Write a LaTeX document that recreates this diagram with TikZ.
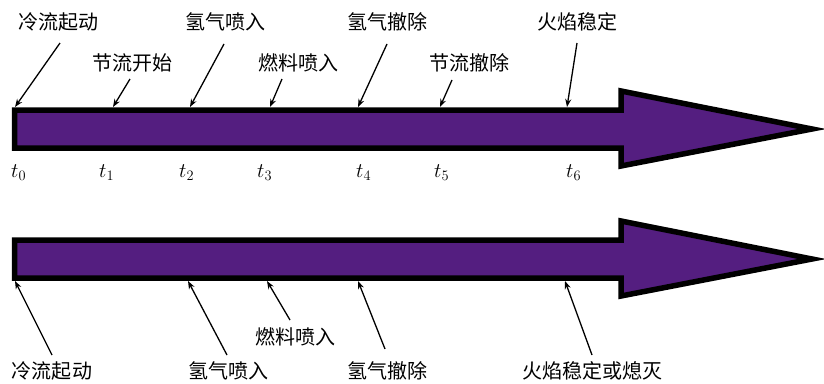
\documentclass[tikz,border=0pt]{standalone}
\usepackage{fontspec}
\newfontfamily\cjk{Noto Sans CJK SC}
\usetikzlibrary{arrows.meta}
\definecolor{arrowpurple}{RGB}{84,30,128}
\begin{document}
\begin{tikzpicture}[x=1pt,y=-1pt,
  bigarrow/.style={draw=black,line width=5.5pt,fill=arrowpurple,line join=miter},
  lbl/.style={font=\cjk\fontsize{20}{22}\selectfont,inner sep=0pt},
  tlbl/.style={font=\fontsize{20}{22}\selectfont,inner sep=0pt,anchor=west},
  ptr/.style={line width=1.3pt,-{Stealth[length=8pt,width=6pt]}}]
\useasboundingbox (0,0) rectangle (824,383);
% big arrows
\draw[bigarrow] (14.5,110) -- (621,110) -- (621,91) -- (812,129) -- (621,166) -- (621,148) -- (14.5,148) -- cycle;
\draw[bigarrow] (14.5,240) -- (621,240) -- (621,221) -- (812,259) -- (621,296) -- (621,278) -- (14.5,278) -- cycle;
% top labels
\node[lbl] (a1) at (58,22) {冷流起动};
\node[lbl] (a2) at (132,63) {节流开始};
\node[lbl] (a3) at (225,22) {氢气喷入};
\node[lbl] (a4) at (298,63) {燃料喷入};
\node[lbl] (a5) at (387,22) {氢气撤除};
\node[lbl] (a6) at (469,63) {节流撤除};
\node[lbl] (a7) at (577,22) {火焰稳定};
% top arrow starts / ends
\coordinate (as1) at (60,43);  \coordinate (ae1) at (15,107);
\coordinate (as2) at (130,79); \coordinate (ae2) at (113,107);
\coordinate (as3) at (224,44); \coordinate (ae3) at (190,107);
\coordinate (as4) at (282,79); \coordinate (ae4) at (270,107);
\coordinate (as5) at (387,44); \coordinate (ae5) at (358,107);
\coordinate (as6) at (452,80); \coordinate (ae6) at (440,107);
\coordinate (as7) at (577,43); \coordinate (ae7) at (567,107);
\foreach \i in {1,...,7} {\draw[ptr] (as\i) -- (ae\i);}
% time labels
\node[tlbl] (t0) at (11,173) {$t_0$};
\node[tlbl] (t1) at (99,173) {$t_1$};
\node[tlbl] (t2) at (179,173) {$t_2$};
\node[tlbl] (t3) at (257,173) {$t_3$};
\node[tlbl] (t4) at (356,173) {$t_4$};
\node[tlbl] (t5) at (434,173) {$t_5$};
\node[tlbl] (t6) at (566,173) {$t_6$};
% bottom labels
\node[lbl] (b1) at (52,371) {冷流起动};
\node[lbl] (b2) at (228,371) {氢气喷入};
\node[lbl] (b3) at (295,337) {燃料喷入};
\node[lbl] (b4) at (387,371) {氢气撤除};
\node[lbl] (b5) at (592,371) {火焰稳定或熄灭};
\coordinate (bs1) at (52,355);  \coordinate (be1) at (15,281);
\coordinate (bs2) at (227,355); \coordinate (be2) at (188,281);
\coordinate (bs3) at (290,320); \coordinate (be3) at (267,281);
\coordinate (bs4) at (385,349); \coordinate (be4) at (358,281);
\coordinate (bs5) at (592,355); \coordinate (be5) at (565,281);
\foreach \i in {1,...,5} {\draw[ptr] (bs\i) -- (be\i);}
\end{tikzpicture}
\end{document}
